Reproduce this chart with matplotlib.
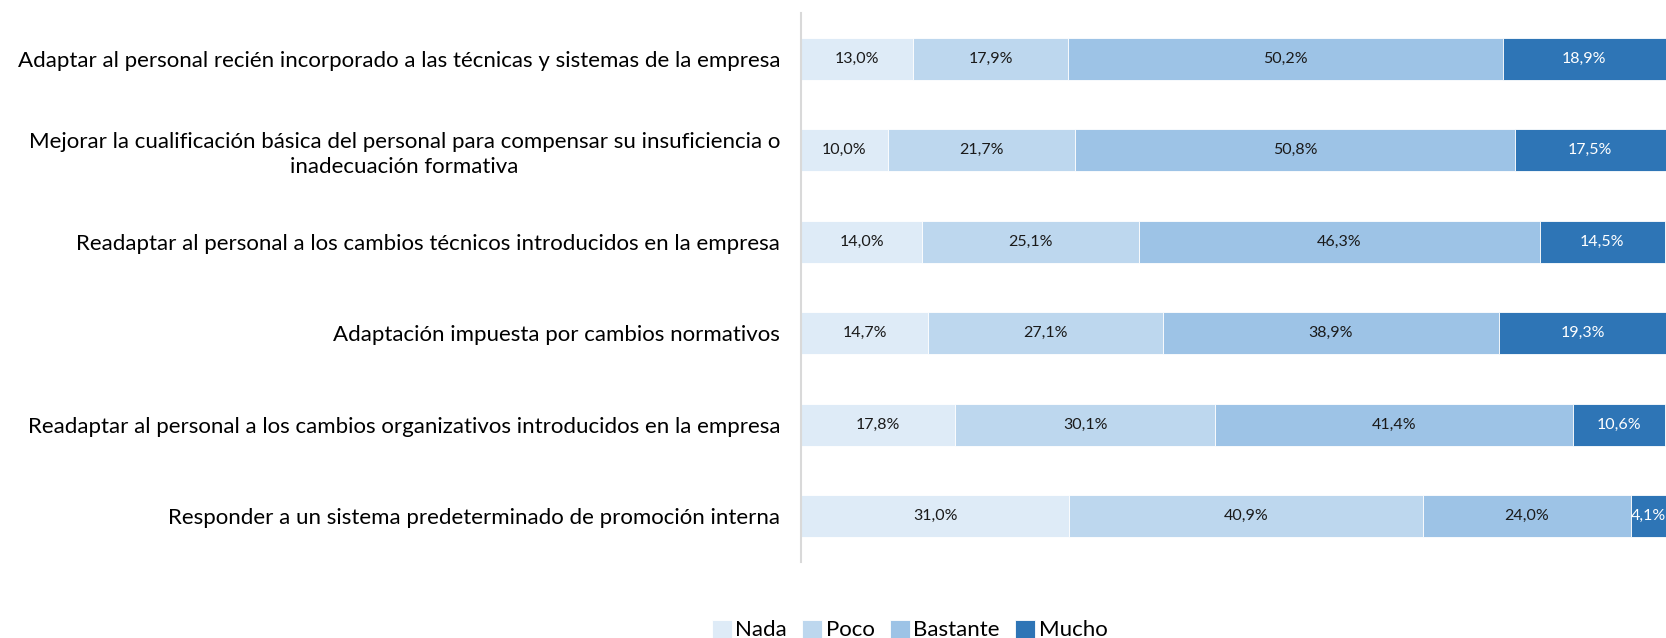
import matplotlib
matplotlib.use("Agg")
import matplotlib.pyplot as plt
import numpy as np

plt.rcParams['font.family'] = ['Lato', 'DejaVu Sans']

categories = [
    "Adaptar al personal recién incorporado a las técnicas y sistemas de la empresa",
    "Mejorar la cualificación básica del personal para compensar su insuficiencia o\ninadecuación formativa",
    "Readaptar al personal a los cambios técnicos introducidos en la empresa",
    "Adaptación impuesta por cambios normativos",
    "Readaptar al personal a los cambios organizativos introducidos en la empresa",
    "Responder a un sistema predeterminado de promoción interna",
]
series_names = ["Nada", "Poco", "Bastante", "Mucho"]
nada = [13.0, 10.0, 14.0, 14.7, 17.8, 31.0]
poco = [17.9, 21.7, 25.1, 27.1, 30.1, 40.9]
bastante = [50.2, 50.8, 46.3, 38.9, 41.4, 24.0]
mucho = [18.9, 17.5, 14.5, 19.3, 10.6, 4.1]

colors = ["#DEEBF7", "#BDD7EE", "#9DC3E6", "#2E75B6"]
text_colors = ["#1a1a1a", "#1a1a1a", "#1a1a1a", "white"]

fig = plt.figure(figsize=(16.66, 6.38), dpi=100)
ax = fig.add_axes([0.4808, 0.1191, 0.5192, 0.8605])

y = np.arange(len(categories))
left = np.zeros(len(categories))
for name, vals, col, tc in zip(series_names, [nada, poco, bastante, mucho], colors, text_colors):
    vals = np.array(vals)
    ax.barh(y, vals, left=left, height=0.46, color=col, label=name,
            edgecolor="white", linewidth=0.6)
    for yi, l, v in zip(y, left, vals):
        ax.text(l + v / 2, yi, f"{v:.1f}%".replace(".", ","), ha="center", va="center",
                fontsize=11.5, color=tc)
    left += vals

ax.set_xlim(0, 100)
ax.set_ylim(len(categories) - 0.5, -0.5)
ax.set_yticks(y)
ax.set_yticklabels(categories, fontsize=16, multialignment="center", linespacing=1.3)
ax.tick_params(axis="y", length=0, pad=15)
ax.set_xticks([])
for s in ["top", "right", "bottom"]:
    ax.spines[s].set_visible(False)
ax.spines["left"].set_color("#D9D9D9")
ax.spines["left"].set_linewidth(1.5)

fig.legend(loc="center", bbox_to_anchor=(0.546, 0.0125), ncol=4, frameon=False,
           fontsize=16, handlelength=0.9, handleheight=0.9, handletextpad=0.15,
           columnspacing=0.7)

fig.savefig("out.png", dpi=100)
